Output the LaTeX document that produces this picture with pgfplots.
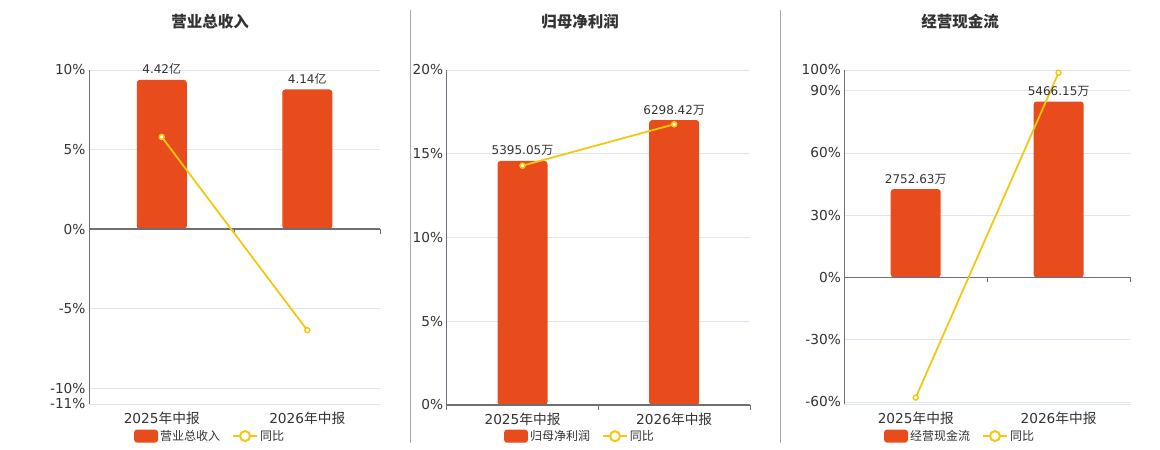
\documentclass[border=0pt]{standalone}
\usepackage{pgfplots}
\pgfplotsset{compat=1.18}
\usepackage{fontspec}
\setmainfont{DejaVu Sans}
\newfontfamily\cjk{Noto Sans CJK SC}
\definecolor{barred}{HTML}{E84B1C}
\definecolor{lineyel}{HTML}{F2C811}
\definecolor{axgray}{HTML}{6E7079}
\definecolor{gridc}{HTML}{E0E6F1}
\definecolor{txt}{HTML}{333333}
\definecolor{sepc}{HTML}{AAAAAA}

\pgfplotsset{
 panel/.style={
  scale only axis, anchor=south west,
  xmin=-0.5, xmax=1.5,
  axis line style={draw=none},
  major tick length=0pt,
  ymajorgrids, grid style={gridc, line width=0.8bp},
  xtick={0,1},
  xticklabels={2025{\cjk 年中报},2026{\cjk 年中报}},
  tick label style={font=\fontsize{13.7bp}{16bp}\selectfont, text=txt},
  xticklabel style={yshift=-4bp},
  clip=false,
  legend style={draw=none, fill=none, legend columns=-1,
    font=\cjk\fontsize{12bp}{14bp}\selectfont, text=txt,
    /tikz/every even column/.append style={column sep=10bp}, anchor=center},
 },
 bars/.style={ybar, bar width=50bp, fill=barred, draw=none, rounded corners=3bp,
   point meta=explicit symbolic,
   nodes near coords style={font=\fontsize{12bp}{14bp}\selectfont, text=txt, anchor=south, yshift=1.5bp},
   legend image code/.code={\fill[barred, rounded corners=3bp] (0bp,-6.5bp) rectangle (24bp,6.5bp);}},
 yoy/.style={lineyel, line width=1.8bp, mark=*, mark size=2.5bp,
   mark options={fill=white, draw=lineyel, line width=1.5bp},
   legend image code/.code={\draw[lineyel, line width=2bp] (0bp,0bp) -- (24bp,0bp); \draw[lineyel, line width=2bp, fill=white] (12bp,0bp) circle (5bp);}},
}

\begin{document}
\begin{tikzpicture}
\useasboundingbox (0,0) rectangle (1160bp,450bp);
\fill[white] (0,0) rectangle (1160bp,450bp);

% separators
\draw[sepc, line width=1bp] (410.3bp,7bp) -- (410.3bp,440bp);
\draw[sepc, line width=1bp] (780.3bp,7bp) -- (780.3bp,440bp);

% titles
\node[font=\cjk\bfseries\fontsize{15.5bp}{18bp}\selectfont, text=txt] at (210bp,428bp) {营业总收入};
\node[font=\cjk\bfseries\fontsize{15.5bp}{18bp}\selectfont, text=txt] at (580bp,428bp) {归母净利润};
\node[font=\cjk\bfseries\fontsize{15.5bp}{18bp}\selectfont, text=txt] at (960bp,428bp) {经营现金流};

% Panel 1
\begin{axis}[panel, at={(89bp,46bp)}, width=291bp, height=334bp,
  ymin=-11, ymax=10, ytick={-11,-10,-5,0,5,10},
  yticklabels={-11\%,-10\%,-5\%,0\%,5\%,10\%},
  legend style={at={(0.416,-0.096)}}]
\draw[axgray, line width=1bp] (rel axis cs:0,0) -- (rel axis cs:0,1);
\addplot[bars, nodes near coords={\pgfplotspointmeta{\cjk 亿}}]
  coordinates {(0,9.38) [4.42] (1,8.78) [4.14]};
\addlegendentry{营业总收入}
\draw[axgray, line width=1.6bp] (axis cs:-0.5,0) -- (axis cs:1.5,0);
\pgfplotsinvokeforeach{-0.5,0.5,1.5}{\draw[axgray, line width=1bp] (axis cs:#1,0) -- ++(0pt,-5bp);}
\addplot[yoy] coordinates {(0,5.79) (1,-6.36)};
\addlegendentry{同比}
\end{axis}

% Panel 2
\begin{axis}[panel, at={(446.7bp,45bp)}, width=303.3bp, height=335bp,
  ymin=0, ymax=20, ytick={0,5,10,15,20},
  yticklabels={0\%,5\%,10\%,15\%,20\%},
  legend style={at={(0.4395,-0.093)}}]
\draw[axgray, line width=1bp] (rel axis cs:0,0) -- (rel axis cs:0,1);
\addplot[bars, nodes near coords={\pgfplotspointmeta{\cjk 万}}]
  coordinates {(0,14.57) [5395.05] (1,17.01) [6298.42]};
\addlegendentry{归母净利润}
\draw[axgray, line width=1.6bp] (axis cs:-0.5,0) -- (axis cs:1.5,0);
\pgfplotsinvokeforeach{-0.5,0.5,1.5}{\draw[axgray, line width=1bp] (axis cs:#1,0) -- ++(0pt,-5bp);}
\addplot[yoy] coordinates {(0,14.29) (1,16.76)};
\addlegendentry{同比}
\end{axis}

% Panel 3
\begin{axis}[panel, at={(844.3bp,46bp)}, width=285.7bp, height=334bp,
  ymin=-61, ymax=100, ytick={-60,-30,0,30,60,90,100},
  yticklabels={-60\%,-30\%,0\%,30\%,60\%,90\%,100\%},
  legend style={at={(0.405,-0.096)}}]
\draw[axgray, line width=1bp] (rel axis cs:0,0) -- (rel axis cs:0,1);
\draw[gridc, line width=0.8bp] (rel axis cs:0,0) -- (rel axis cs:1,0);
\addplot[bars, nodes near coords={\pgfplotspointmeta{\cjk 万}}]
  coordinates {(0,42.6) [2752.63] (1,84.8) [5466.15]};
\addlegendentry{经营现金流}
\draw[axgray, line width=1.6bp] (axis cs:-0.5,0) -- (axis cs:1.5,0);
\pgfplotsinvokeforeach{-0.5,0.5,1.5}{\draw[axgray, line width=1bp] (axis cs:#1,0) -- ++(0pt,-5bp);}
\addplot[yoy] coordinates {(0,-57.9) (1,98.7)};
\addlegendentry{同比}
\end{axis}
\end{tikzpicture}
\end{document}
